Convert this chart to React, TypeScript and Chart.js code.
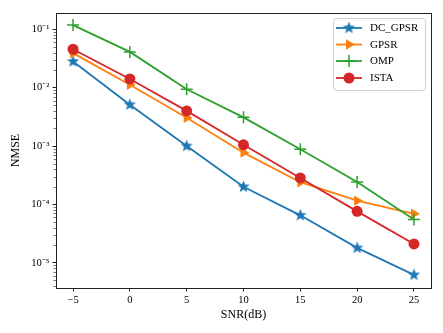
import React, { useEffect, useRef } from 'react';
import { Chart, registerables } from 'chart.js';
Chart.register(...registerables);

const snr = [-5, 0, 5, 10, 15, 20, 25];
const dcGpsr = [0.028, 0.0051, 0.001, 2.0e-4, 6.5e-5, 1.8e-5, 6.2e-6];
const gpsr = [0.039, 0.0112, 0.00305, 7.7e-4, 2.4e-4, 1.16e-4, 6.9e-5];
const omp = [0.118, 0.041, 0.0094, 0.0031, 8.8e-4, 2.43e-4, 5.5e-5];
const ista = [0.0455, 0.0141, 0.004, 0.00105, 2.84e-4, 7.6e-5, 2.1e-5];
const seriesNames = ['DC_GPSR', 'GPSR', 'OMP', 'ISTA'];
const seriesColors = ['#1f77b4', '#ff7f0e', '#2ca02c', '#d62728'];
const xTicks = [-5, 0, 5, 10, 15, 20, 25];
const yTicks = [1e-5, 1e-4, 1e-3, 1e-2, 1e-1];
const yTickLabels = ['10⁻⁵', '10⁻⁴', '10⁻³', '10⁻²', '10⁻¹'];
const xTitle = 'SNR(dB)';
const yTitle = 'NMSE';

const FONT = "'Liberation Serif', 'Times New Roman', serif";

function makeStar(color: string, r: number) {
  const c = document.createElement('canvas');
  const s = Math.ceil(r * 2 + 2);
  c.width = s;
  c.height = s;
  const ctx = c.getContext('2d')!;
  const cx = s / 2;
  const cy = s / 2;
  const inner = r * 0.42;
  ctx.beginPath();
  for (let i = 0; i < 10; i++) {
    const rad = i % 2 === 0 ? r : inner;
    const a = -Math.PI / 2 + (i * Math.PI) / 5;
    const px = cx + rad * Math.cos(a);
    const py = cy + rad * Math.sin(a);
    if (i === 0) ctx.moveTo(px, py);
    else ctx.lineTo(px, py);
  }
  ctx.closePath();
  ctx.fillStyle = color;
  ctx.fill();
  return c;
}

function drawMarker(ctx: CanvasRenderingContext2D, idx: number, x: number, y: number, star: HTMLCanvasElement) {
  const color = seriesColors[idx];
  ctx.save();
  ctx.fillStyle = color;
  ctx.strokeStyle = color;
  if (idx === 0) {
    ctx.drawImage(star, x - star.width / 2, y - star.height / 2);
  } else if (idx === 1) {
    const r = 6;
    ctx.beginPath();
    ctx.moveTo(x + r, y);
    ctx.lineTo(x - r / 2, y - r * 0.866);
    ctx.lineTo(x - r / 2, y + r * 0.866);
    ctx.closePath();
    ctx.fill();
  } else if (idx === 2) {
    ctx.lineWidth = 1.5;
    ctx.beginPath();
    ctx.moveTo(x - 6, y);
    ctx.lineTo(x + 6, y);
    ctx.moveTo(x, y - 6);
    ctx.lineTo(x, y + 6);
    ctx.stroke();
  } else {
    ctx.beginPath();
    ctx.arc(x, y, 5.5, 0, Math.PI * 2);
    ctx.fill();
  }
  ctx.restore();
}

export default function App() {
  const ref = useRef<HTMLCanvasElement | null>(null);

  useEffect(() => {
    document.body.style.margin = '0';
    const canvas = ref.current;
    if (!canvas) return;
    const star = makeStar(seriesColors[0], 6.5);
    const values = [dcGpsr, gpsr, omp, ista];

    const framePlugin = {
      id: 'framePlugin',
      afterDraw(chart: any) {
        const { ctx, chartArea } = chart;
        const { left, right, top, bottom } = chartArea;
        const yScale = chart.scales.y;
        ctx.save();
        // minor ticks on log axis
        ctx.strokeStyle = '#222';
        ctx.lineWidth = 0.6;
        for (let n = -7; n <= 0; n++) {
          for (let k = 2; k <= 9; k++) {
            const v = k * Math.pow(10, n);
            if (v < yScale.min || v > yScale.max) continue;
            const py = Math.round(yScale.getPixelForValue(v)) + 0.5;
            ctx.beginPath();
            ctx.moveTo(left - 2.5, py);
            ctx.lineTo(left, py);
            ctx.stroke();
          }
        }
        // frame
        ctx.strokeStyle = '#222';
        ctx.lineWidth = 1;
        ctx.strokeRect(Math.round(left) + 0.5, Math.round(top) + 0.5, Math.round(right - left), Math.round(bottom - top));
        // legend
        const bx = 333, by = 18, bw = 92, bh = 72;
        ctx.fillStyle = 'rgba(255,255,255,0.85)';
        ctx.strokeStyle = '#d0d0d0';
        ctx.lineWidth = 1;
        ctx.beginPath();
        (ctx as any).roundRect(bx + 0.5, by + 0.5, bw, bh, 3);
        ctx.fill();
        ctx.stroke();
        const rows = [28, 44.5, 61, 78];
        ctx.font = `11px ${FONT}`;
        ctx.textBaseline = 'middle';
        ctx.textAlign = 'left';
        seriesNames.forEach((name, i) => {
          const yy = rows[i];
          ctx.strokeStyle = seriesColors[i];
          ctx.lineWidth = 1.8;
          ctx.beginPath();
          ctx.moveTo(336, yy);
          ctx.lineTo(362, yy);
          ctx.stroke();
          drawMarker(ctx, i, 349, yy, star);
          ctx.fillStyle = '#000';
          ctx.fillText(name, 370, yy + 0.5);
        });
        ctx.restore();
      },
    };

    const pointStyles: any[] = [star, 'triangle', 'cross', 'circle'];
    const radii = [6.5, 6, 6, 5.5];
    const rotations = [0, 90, 0, 0];
    const orders = [4, 3, 2, 1];

    const chart = new Chart(canvas, {
      type: 'line',
      data: {
        datasets: seriesNames.map((name, i) => ({
          label: name,
          data: snr.map((x, j) => ({ x, y: values[i][j] })),
          borderColor: seriesColors[i],
          backgroundColor: seriesColors[i],
          pointBackgroundColor: seriesColors[i],
          pointBorderColor: seriesColors[i],
          pointStyle: pointStyles[i],
          pointRadius: radii[i],
          pointRotation: rotations[i],
          pointBorderWidth: i === 2 ? 1.5 : 0,
          borderWidth: 1.8,
          tension: 0,
          fill: false,
          order: orders[i],
        })),
      },
      options: {
        responsive: false,
        animation: false,
        devicePixelRatio: 1,
        layout: { padding: { left: 0, top: 13, right: 12, bottom: 0 } },
        plugins: {
          legend: { display: false },
          tooltip: { enabled: false },
        },
        scales: {
          x: {
            type: 'linear',
            min: -6.5,
            max: 26.5,
            afterBuildTicks: (scale: any) => {
              scale.ticks = xTicks.map((v) => ({ value: v }));
            },
            afterFit: (scale: any) => {
              scale.height = 45;
            },
            ticks: {
              color: '#000',
              font: { family: FONT, size: 10.5 },
              padding: 2,
              maxRotation: 0,
              autoSkip: false,
              callback: (v: any) => (Number(v) < 0 ? '−' + Math.abs(Number(v)) : String(v)),
            },
            grid: { display: true, drawOnChartArea: false, drawTicks: true, tickLength: 3.5, color: '#222', lineWidth: 1 },
            border: { display: false },
            title: {
              display: true,
              text: xTitle,
              color: '#000',
              font: { family: FONT, size: 12 },
              padding: { top: 0, bottom: 11 },
            },
          },
          y: {
            type: 'logarithmic',
            min: 3.7e-6,
            max: 0.19,
            afterBuildTicks: (scale: any) => {
              scale.ticks = yTicks.map((v) => ({ value: v }));
            },
            afterFit: (scale: any) => {
              scale.width = 56;
            },
            ticks: {
              color: '#000',
              font: { family: FONT, size: 10.5 },
              padding: 3,
              autoSkip: false,
              callback: (v: any) => {
                const idx = yTicks.findIndex((t) => Math.abs(t - Number(v)) / t < 1e-6);
                return idx >= 0 ? yTickLabels[idx] : '';
              },
            },
            grid: { display: true, drawOnChartArea: false, drawTicks: true, tickLength: 3.5, color: '#222', lineWidth: 1 },
            border: { display: false },
            title: {
              display: true,
              text: yTitle,
              color: '#000',
              font: { family: FONT, size: 12 },
              padding: { top: 9, bottom: 0 },
            },
          },
        },
      },
      plugins: [framePlugin],
    } as any);

    return () => chart.destroy();
  }, []);

  return (
    <div style={{ width: 443, height: 333, position: 'relative' }}>
      <canvas ref={ref} width={443} height={333} style={{ display: 'block' }} />
    </div>
  );
}
